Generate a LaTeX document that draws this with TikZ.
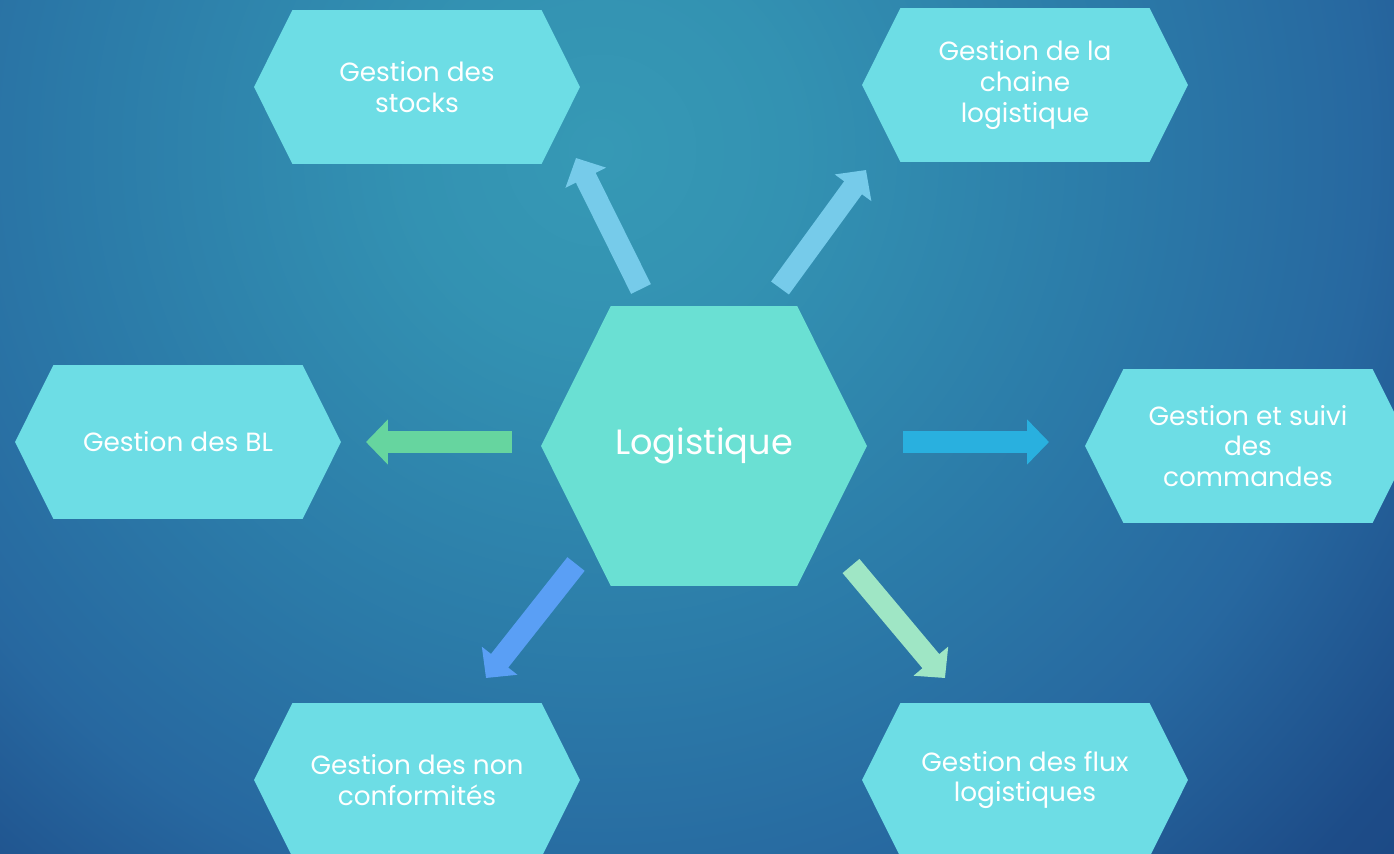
\documentclass[tikz,border=0pt]{standalone}
\usepackage{fontspec}
\setmainfont{Poppins}
\usetikzlibrary{shapes.symbols, arrows.meta}

\definecolor{bgcenter}{HTML}{3699B5}
\definecolor{bgmid}{HTML}{3392B2}
\definecolor{bginner}{HTML}{2B7AA8}
\definecolor{bgside}{HTML}{2768A0}
\definecolor{bgedge}{HTML}{1D4C88}
\definecolor{bgfar}{HTML}{1A4580}
\definecolor{hexcyan}{HTML}{6DDDE5}
\definecolor{hexmint}{HTML}{6AE0D3}
\definecolor{arrgreen}{HTML}{66D59F}
\definecolor{arrblue}{HTML}{29B0DF}
\definecolor{arrsky}{HTML}{76CBEA}
\definecolor{arrroyal}{HTML}{5A9FF5}
\definecolor{arrpale}{HTML}{9FE6C5}

\pgfdeclareradialshading{bgglow}{\pgfpoint{0bp}{0bp}}{color(0bp)=(bgcenter); color(4bp)=(bgmid); color(11bp)=(bginner); color(16bp)=(bgside); color(21bp)=(bgedge); color(25bp)=(bgfar); color(50bp)=(bgfar)}

\tikzset{
  hexa/.style={shape=signal, signal to=west and east, signal pointer angle=127,
    fill=hexcyan, text=white, inner sep=0pt, align=center,
    minimum width=6.52cm, minimum height=3.08cm,
    font=\fontsize{15}{17.5}\selectfont},
  pfeil/.style={line width=0.44cm, -{Triangle[length=0.44cm, width=0.88cm]}}
}

\begin{document}
\begin{tikzpicture}[x=0.02cm, y=-0.02cm]
        % Frame and background
        \useasboundingbox (0,0) rectangle (1394,853);
        \clip (0,0) rectangle (1394,853);
        \fill[shading=bgglow] (-600,-1050) rectangle (1800,1350);

        % Central hexagon
        \node[hexa, fill=hexmint, minimum height=5.6cm,
              font=\fontsize{20}{24}\selectfont] (logi) at (704,446) {Logistique};

        % Outer hexagons
        \node[hexa] (stocks)  at (417,87)   {Gestion des\\stocks};
        \node[hexa] (chaine)  at (1025,85)  {Gestion de la\\chaine\\logistique};
        \node[hexa] (bl)      at (178,442)  {Gestion des BL};
        \node[hexa] (suivi)   at (1248,446) {Gestion et suivi\\des\\commandes};
        \node[hexa] (nonconf) at (417,780)  {Gestion des non\\conformités};
        \node[hexa] (flux)    at (1025,780) {Gestion des flux\\logistiques};

        % Arrow ends
        \coordinate (a1s) at (641,289);  \coordinate (a1e) at (576,158);
        \coordinate (a2s) at (780,288);  \coordinate (a2e) at (866,170);
        \coordinate (a3s) at (512,442);  \coordinate (a3e) at (366,442);
        \coordinate (a4s) at (903,442);  \coordinate (a4e) at (1049,442);
        \coordinate (a5s) at (576,564);  \coordinate (a5e) at (486,678);
        \coordinate (a6s) at (851,566);  \coordinate (a6e) at (945,678);

        % Block arrows
        \draw[pfeil, arrsky]   (a1s) -- (a1e);
        \draw[pfeil, arrsky]   (a2s) -- (a2e);
        \draw[pfeil, arrgreen] (a3s) -- (a3e);
        \draw[pfeil, arrblue]  (a4s) -- (a4e);
        \draw[pfeil, arrroyal] (a5s) -- (a5e);
        \draw[pfeil, arrpale]  (a6s) -- (a6e);
    \end{tikzpicture}
\end{document}
